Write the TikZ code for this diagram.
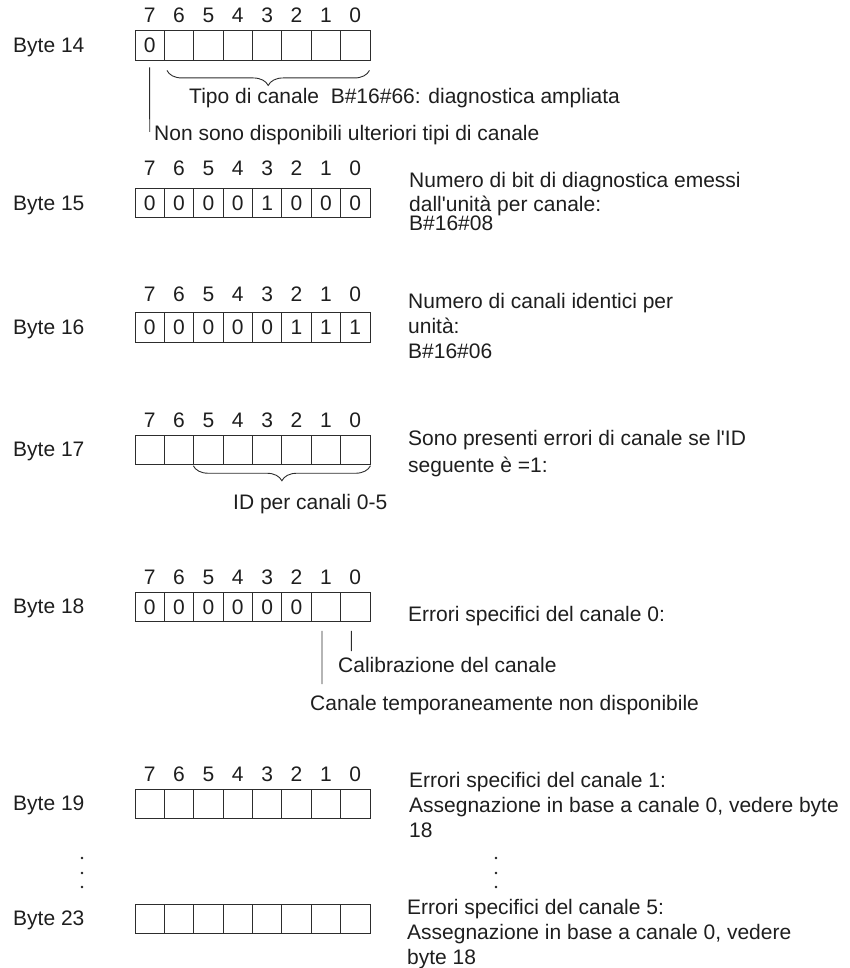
\documentclass[tikz,border=0pt]{standalone}
\usepackage{fontspec}
\setmainfont{Liberation Sans}
\usetikzlibrary{decorations.pathreplacing}
\definecolor{ink}{RGB}{30,30,30}
\definecolor{linec}{RGB}{45,45,45}
\newcommand\mainsize{\fontsize{21pt}{25pt}\selectfont}
\newcommand\mkbyte[4]{%
  \foreach \v [count=\i from 0] in {#4} {%
    \pgfmathtruncatemacro\bitno{7-\i}%
    \node[cell] (#1-\bitno) at ({135+\i*29.375+14.6875},{#2+14.65}) {\v};%
  }%
  \node[txt] (#1-lab) at (13,{#2+14.65+7.3}) {#3};%
}
\newcommand\mkbits[2]{%
  \foreach \b [count=\i from 0] in {7,6,5,4,3,2,1,0} {%
    \node[bitnum] (#1-n\b) at ({135+\i*29.375+14.6875},#2) {\b};%
  }%
}
\begin{document}
\begin{tikzpicture}[x=1pt,y=-1pt,
  cell/.style={draw=linec,line width=0.9pt,minimum width=29.375pt,minimum height=29.3pt,inner sep=0pt,text=ink,font=\mainsize,text height=15pt,text depth=0pt},
  bitnum/.style={inner sep=0pt,text=ink,font=\mainsize,text height=15pt,text depth=0pt},
  txt/.style={anchor=base west,inner sep=0pt,text=ink,font=\mainsize},
  conn/.style={draw=linec,line width=0.9pt},
  brc/.style={draw=linec,line width=0.9pt,decorate,decoration={brace,mirror,amplitude=15pt}},
  dot/.style={fill=ink}
]
\useasboundingbox (0,0) rectangle (850,968);

% Byte 14
\mkbits{b14}{15}
\mkbyte{b14}{30.7}{Byte 14}{0,{},{},{},{},{},{},{}}
\draw[brc] ([shift={(3,10)}]b14-6.south west) -- ([shift={(-1,10)}]b14-0.south east);
\node[txt] (t14a) at (189,103.5) {Tipo di canale~ B\#16\#66: diagnostica ampliata};
\coordinate (e14) at (149.7,132);
\draw[conn] ([shift={(0,7)}]b14-7.south) -- (e14);
\node[txt] (t14b) at (154,141) {Non sono disponibili ulteriori tipi di canale};

% Byte 15
\mkbits{b15}{168.5}
\mkbyte{b15}{188.3}{Byte 15}{0,0,0,0,1,0,0,0}
\node[txt] (t15a) at (409,188) {Numero di bit di diagnostica emessi};
\node[txt] (t15b) at (409,212) {dall\textquotesingle unità per canale:};
\node[txt] (t15c) at (409,231) {B\#16\#08};

% Byte 16
\mkbits{b16}{293.5}
\mkbyte{b16}{312.7}{Byte 16}{0,0,0,0,0,1,1,1}
\node[txt] (t16a) at (408,308) {Numero di canali identici per};
\node[txt] (t16b) at (408,333) {unità:};
\node[txt] (t16c) at (408,358) {B\#16\#06};

% Byte 17
\mkbits{b17}{420}
\mkbyte{b17}{435}{Byte 17}{{},{},{},{},{},{},{},{}}
\draw[brc] ([shift={(0,1)}]b17-5.south west) -- ([shift={(0,1)}]b17-0.south east);
\node[txt] (t17a) at (408,445.5) {Sono presenti errori di canale se l\textquotesingle ID};
\node[txt] (t17b) at (408,472) {seguente è =1:};
\node[txt] (t17c) at (233,509.5) {ID per canali 0-5};

% Byte 18
\mkbits{b18}{577}
\mkbyte{b18}{592}{Byte 18}{0,0,0,0,0,0,{},{}}
\node[txt] (t18a) at (408,621) {Errori specifici del canale 0:};
\coordinate (e18a) at (322,684);
\coordinate (e18b) at (351.3,651);
\draw[conn] ([shift={(-3.9,9)}]b18-1.south) -- (e18a);
\draw[conn] ([shift={(-4,9)}]b18-0.south) -- (e18b);
\node[txt] (t18b) at (338,672.5) {Calibrazione del canale};
\node[txt] (t18c) at (310,710.5) {Canale temporaneamente non disponibile};

% Byte 19
\mkbits{b19}{773.5}
\mkbyte{b19}{789}{Byte 19}{{},{},{},{},{},{},{},{}}
\node[txt] (t19a) at (409,787) {Errori specifici del canale 1:};
\node[txt] (t19b) at (409,812) {Assegnazione in base a canale 0, vedere byte};
\node[txt] (t19c) at (409,837) {18};

% dots
\foreach \yy in {858,873,887} {
  \fill[dot] (82,\yy) circle[radius=1.4pt];
  \fill[dot] (496,\yy) circle[radius=1.4pt];
}

% Byte 23
\mkbyte{b23}{904}{Byte 23}{{},{},{},{},{},{},{},{}}
\node[txt] (t23a) at (407,914) {Errori specifici del canale 5:};
\node[txt] (t23b) at (407,939) {Assegnazione in base a canale 0, vedere};
\node[txt] (t23c) at (407,964) {byte 18};
\end{tikzpicture}
\end{document}
